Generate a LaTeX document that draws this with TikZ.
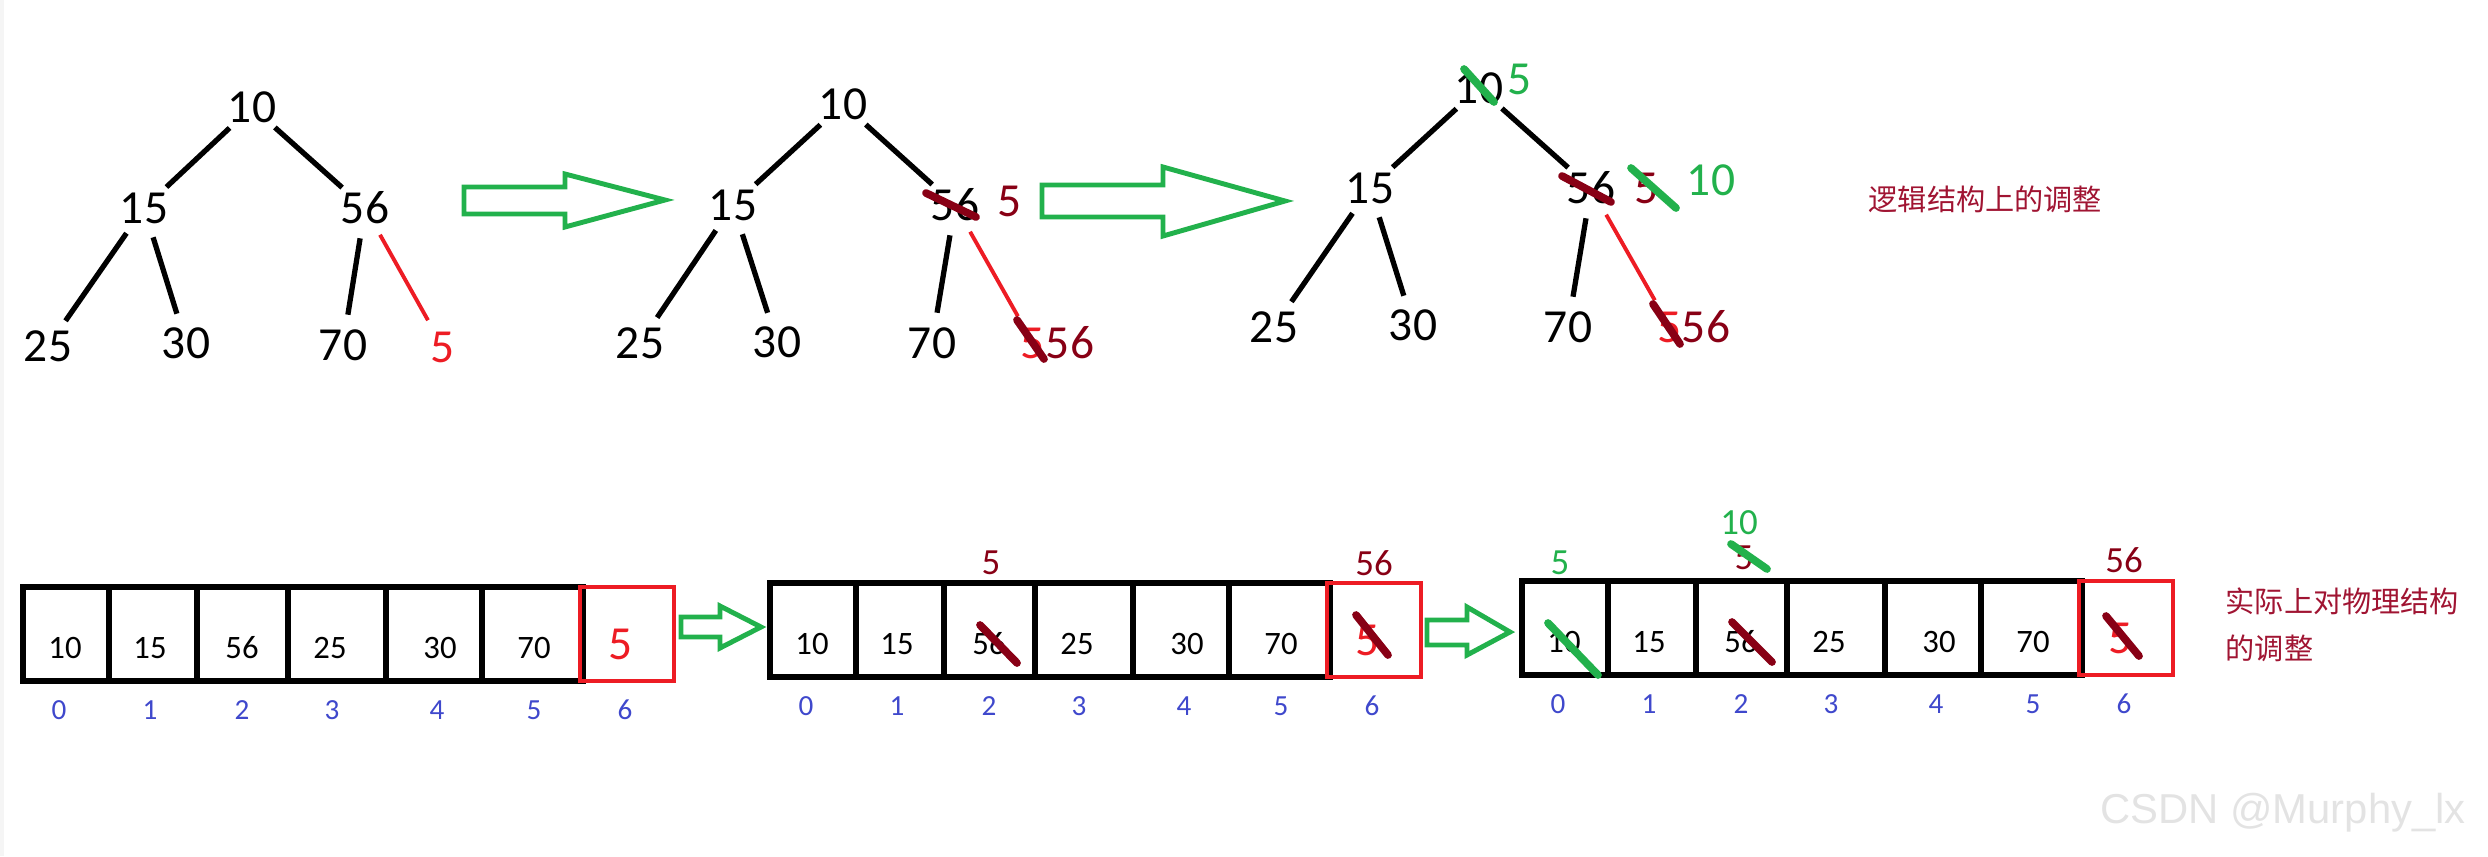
\documentclass[tikz,border=0pt]{standalone}
\usepackage{fontspec}
\setmainfont{Carlito}
\newfontfamily\cjk{Noto Sans CJK SC}
\newfontfamily\wmfont{Liberation Sans}
\definecolor{pgreen}{HTML}{22B14C}
\definecolor{pred}{HTML}{ED1C24}
\definecolor{pdark}{HTML}{880015}
\definecolor{pblue}{HTML}{3F48CC}
\definecolor{labred}{RGB}{160,20,50}
\tikzset{
  nd/.style={circle,minimum size=0.6cm,inner sep=0pt,font=\fontsize{13.5}{16}\selectfont},
  lb/.style={inner sep=0pt,font=\fontsize{13.5}{16}\selectfont},
  ed/.style={line width=1.5pt},
  re/.style={line width=1.1pt,draw=pred},
  st/.style={line width=2.2pt,line cap=round,draw=pdark},
  gs/.style={st,draw=pgreen},
  blk/.style={draw=pgreen,line width=1.4pt},
  cellbox/.style={draw,line width=1.6pt,minimum height=0.94cm,inner sep=0pt},
  rbox/.style={draw=pred,line width=1.4pt,minimum size=0.94cm,inner sep=0pt},
  val/.style={inner sep=0pt,font=\fontsize{9.3}{11}\selectfont},
  idx/.style={inner sep=0pt,text=pblue,font=\fontsize{8.3}{10}\selectfont},
  ann/.style={inner sep=0pt,font=\fontsize{10.5}{12}\selectfont},
  cn/.style={inner sep=0pt,text=labred,font=\cjk\fontsize{8.3}{13.4}\selectfont},
}

\begin{document}
\begin{tikzpicture}
  \useasboundingbox (0,0) rectangle (24.88,8.56);
  \fill[gray!8] (0,0) rectangle (0.04,8.56);

  % tree before
  \node[nd] (t1a) at (2.52,7.49) {10};
  \node[nd] (t1b) at (1.44,6.48) {15};
  \node[nd] (t1c) at (3.65,6.48) {56};
  \node[nd] (t1d) at (0.48,5.10) {25};
  \node[nd] (t1e) at (1.86,5.13) {30};
  \node[nd] (t1f) at (3.43,5.11) {70};
  \node[nd,text=pred] (t1g) at (4.43,5.09) {5};
  \draw[ed] (t1a) -- (t1b);
  \draw[ed] (t1a) -- (t1c);
  \draw[ed] (t1b) -- (t1d);
  \draw[ed] (t1b) -- (t1e);
  \draw[ed] (t1c) -- (t1f);
  \draw[re] (t1c) -- (t1g);

  \draw[blk] (4.64,6.69) -- (5.65,6.69) -- (5.65,6.82) -- (6.65,6.56) -- (5.65,6.29) -- (5.65,6.42) -- (4.64,6.42) -- cycle;

  % tree after first swap
  \node[nd] (t2a) at (8.43,7.52) {10};
  \node[nd] (t2b) at (7.33,6.51) {15};
  \node[nd] (t2c) at (9.55,6.51) {56};
  \node[lb,text=pdark] (t2k) at (10.10,6.55) {5};
  \node[nd] (t2d) at (6.40,5.13) {25};
  \node[nd] (t2e) at (7.77,5.14) {30};
  \node[nd] (t2f) at (9.32,5.13) {70};
  \node[nd,text=pred] (t2g) at (10.33,5.13) {5};
  \node[lb,text=pdark] (t2h) at (10.70,5.13) {56};
  \draw[ed] (t2a) -- (t2b);
  \draw[ed] (t2a) -- (t2c);
  \draw[ed] (t2b) -- (t2d);
  \draw[ed] (t2b) -- (t2e);
  \draw[ed] (t2c) -- (t2f);
  \draw[re] (t2c) -- (t2g);
  \draw[st] ([shift={(-0.29,0.12)}]t2c.center) -- ([shift={(0.21,-0.12)}]t2c.center);
  \draw[st] ([shift={(-0.16,0.23)}]t2g.center) -- ([shift={(0.11,-0.16)}]t2g.center);

  \draw[blk] (10.42,6.71) -- (11.63,6.71) -- (11.63,6.89) -- (12.85,6.55) -- (11.63,6.20) -- (11.63,6.39) -- (10.42,6.39) -- cycle;

  % tree after second swap
  \node[nd] (t3a) at (14.79,7.68) {10};
  \node[lb,text=pgreen] (t3n) at (15.20,7.77) {5};
  \node[nd] (t3b) at (13.70,6.68) {15};
  \node[nd] (t3c) at (15.91,6.68) {56};
  \node[lb,text=pdark] (t3k) at (16.47,6.68) {5};
  \node[lb,text=pgreen] (t3m) at (17.11,6.76) {10};
  \node[nd] (t3d) at (12.74,5.29) {25};
  \node[nd] (t3e) at (14.13,5.31) {30};
  \node[nd] (t3f) at (15.68,5.29) {70};
  \node[nd,text=pred] (t3g) at (16.70,5.29) {5};
  \node[lb,text=pdark] (t3h) at (17.06,5.29) {56};
  \draw[ed] (t3a) -- (t3b);
  \draw[ed] (t3a) -- (t3c);
  \draw[ed] (t3b) -- (t3d);
  \draw[ed] (t3b) -- (t3e);
  \draw[ed] (t3c) -- (t3f);
  \draw[re] (t3c) -- (t3g);
  \draw[gs] ([shift={(-0.15,0.19)}]t3a.center) -- ([shift={(0.15,-0.14)}]t3a.center);
  \draw[st] ([shift={(-0.29,0.12)}]t3c.center) -- ([shift={(0.20,-0.14)}]t3c.center);
  \draw[gs] ([shift={(-0.16,0.20)}]t3k.center) -- ([shift={(0.29,-0.20)}]t3k.center);
  \draw[st] ([shift={(-0.17,0.23)}]t3g.center) -- ([shift={(0.10,-0.17)}]t3g.center);

  \node[cn,anchor=west] (lg) at (18.68,6.57) {逻辑结构上的调整};

  % arrays
  \foreach \ar/\ax/\ay in {a/0.23/2.22, b/7.70/2.26, c/15.22/2.28} {
    \foreach \i/\l/\w/\vx/\ix/\v in {0/0/0.86/0.42/0.36/10, 1/0.86/0.88/1.27/1.27/15, 2/1.74/0.91/2.19/2.19/56,
                                    3/2.65/0.98/3.07/3.09/25, 4/3.63/0.96/4.17/4.14/30, 5/4.59/1.01/5.11/5.11/70} {
      \node[cellbox,minimum width=\w cm] (\ar c\i) at (\ax+\l+\w/2,\ay) {};
      \node[val] (\ar v\i) at (\ax+\vx,\ay-0.14) {\v};
      \node[idx] (\ar x\i) at (\ax+\ix,\ay-0.76) {\i};
    }
    \node[rbox] (\ar c6) at (\ax+6.04,\ay) {};
    \node[lb,text=pred] (\ar v6) at (\ax+5.98,\ay-0.10) {5};
    \node[idx] (\ar x6) at (\ax+6.02,\ay-0.76) {6};
  }

  \draw[blk] (6.81,2.39) -- (7.20,2.39) -- (7.20,2.50) -- (7.61,2.29) -- (7.20,2.08) -- (7.20,2.19) -- (6.81,2.19) -- cycle;
  \draw[blk] (14.27,2.36) -- (14.67,2.36) -- (14.67,2.49) -- (15.10,2.24) -- (14.67,2.01) -- (14.67,2.11) -- (14.27,2.11) -- cycle;

  \node[ann,text=pdark] (bt2) at (9.91,2.93) {5};
  \node[ann,text=pdark] (bt6) at (13.74,2.93) {56};
  \draw[st] ([shift={(-0.09,0.19)}]bv2.center) -- ([shift={(0.28,-0.19)}]bv2.center);
  \draw[st] ([shift={(-0.12,0.25)}]bv6.center) -- ([shift={(0.20,-0.15)}]bv6.center);

  \node[ann,text=pgreen] (ct0) at (15.60,2.93) {5};
  \node[ann,text=pdark] (ct2) at (17.44,2.98) {5};
  \node[ann,text=pgreen] (cu2) at (17.39,3.33) {10};
  \node[ann,text=pdark] (ct6) at (21.24,2.96) {56};
  \draw[gs] ([shift={(-0.16,0.19)}]cv0.center) -- ([shift={(0.34,-0.33)}]cv0.center);
  \draw[st] ([shift={(-0.09,0.20)}]cv2.center) -- ([shift={(0.31,-0.20)}]cv2.center);
  \draw[st] ([shift={(-0.14,0.22)}]cv6.center) -- ([shift={(0.19,-0.18)}]cv6.center);
  \draw[gs] ([shift={(-0.13,0.14)}]ct2.center) -- ([shift={(0.23,-0.11)}]ct2.center);

  \node[cn,anchor=west,align=left] (lp) at (22.25,2.31) {实际上对物理结构\\的调整};

  \node[inner sep=0pt,text=gray!22,font=\wmfont\fontsize{11.9}{14}\selectfont] (wm) at (22.83,0.43) {CSDN @Murphy\_lx};
\end{tikzpicture}
\end{document}
